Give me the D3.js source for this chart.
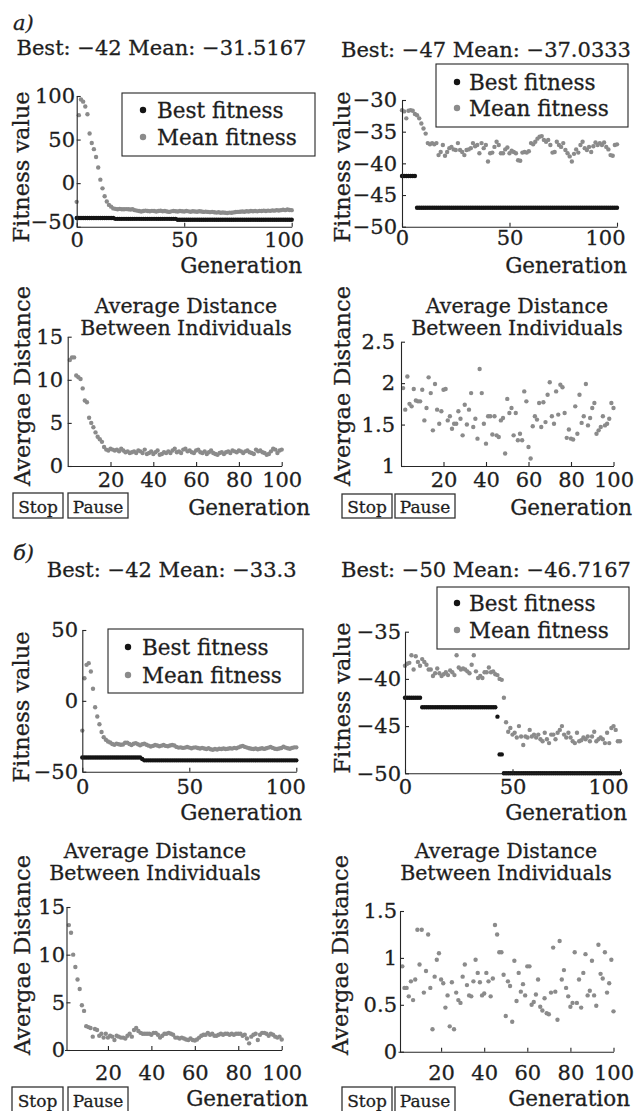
<!DOCTYPE html>
<html><head><meta charset="utf-8">
<script src="https://cdn.jsdelivr.net/npm/d3@7"></script>
<style>
body{margin:0;background:#fff}
svg text{font-family:"DejaVu Serif",serif;fill:#1e1e1e;stroke:#1e1e1e;stroke-width:0.3px}
</style>
</head><body>
<svg id="c" width="635" height="1111"></svg>
<script>
// ---------- DATA ----------
const fitTicksA1 = [-50, 0, 50, 100];
const fitTicksA2 = [-50, -45, -40, -35, -30];
const fitTicksB1 = [-50, 0, 50];
const fitTicksB2 = [-50, -45, -40, -35];
const genTicksFit = [0, 50, 100];
const genTicksDist = [20, 40, 60, 80, 100];
const distTicksA3 = [0, 5, 10, 15];
const distTicksA4 = [1, 1.5, 2, 2.5];
const distTicksB3 = [0, 5, 10, 15];
const distTicksB4 = [0, 0.5, 1, 1.5];

const legendLabels = ["Best fitness", "Mean fitness"];
const titlesFit = ["Best: \u221242 Mean: \u221231.5167", "Best: \u221247 Mean: \u221237.0333",
                   "Best: \u221242 Mean: \u221233.3", "Best: \u221250 Mean: \u221246.7167"];

// a) fitness, generations 0..100
const meanA1 = [-21.5,78,96,93.5,88,79,57,46,39,30,
18,4,-6,-15,-21,-25,-27,-29,-29.5,-30,
-29.5,-30,-30,-29.8,-30,-30.2,-30,-31,-31.5,-32,
-32.5,-32,-31.5,-32,-32.3,-31.8,-32,-32.5,-32,-31.7,
-32.2,-32,-32.5,-33,-32.4,-32,-32.2,-32.6,-32,-32.3,
-32.5,-32,-32.4,-32.8,-32.3,-32.5,-32.8,-32.3,-32.6,-33,
-32.7,-33,-33.3,-33,-33.5,-33.8,-33.4,-34,-33.7,-34,
-34.2,-33.8,-34,-33.6,-33.2,-33,-32.8,-32.5,-32.8,-32.3,
-32.5,-32,-32.3,-32,-32.4,-31.8,-32,-31.6,-32,-31.5,
-31.8,-31.3,-31.6,-31,-31.4,-31,-30.5,-31,-30.3,-30.8,
-31];
const bestA1 = [-40,-40,-40,-40,-40,-40,-40,-40,-40,-40,
-40,-40,-40,-40,-40,-40,-40,-40,-41,-41,
-41,-41,-41,-41,-41,-41,-41,-41,-41,-41,
-41,-41,-41,-41,-41,-41,-41,-41,-41,-41,
-41,-41,-41,-41,-41,-41,-41,-42,-42,-42,
-42,-42,-42,-42,-42,-42,-42,-42,-42,-42,
-42,-42,-42,-42,-42,-42,-42,-42,-42,-42,
-42,-42,-42,-42,-42,-42,-42,-42,-42,-42,
-42,-42,-42,-42,-42,-42,-42,-42,-42,-42,
-42,-42,-42,-42,-42,-42,-42,-42,-42,-42,
-42];
const meanA2 = [-31.6,-31.8,-32.9,-31.7,-31.6,-31.7,-32.2,-32.4,-32.9,-33.7,
-34.5,-35.3,-36.8,-37,-36.8,-37,-36.8,-38.7,-38.2,-37.1,
-38.8,-38.2,-37.6,-37.4,-37.8,-37.9,-36.8,-37.9,-38.2,-38.7,
-37.9,-37.8,-37.6,-36.8,-37.3,-37.1,-38.4,-36.8,-37.6,-37.1,
-39.7,-38.4,-38.3,-37.4,-36.6,-37.1,-38.4,-38.4,-37.8,-37.5,
-38.4,-38,-38.2,-38.4,-39.5,-39.6,-38.3,-38.2,-38.3,-38.1,
-36.8,-37,-36.6,-36.1,-35.8,-35.7,-36.3,-36.6,-36.3,-37.1,
-38.3,-38.2,-36.6,-37.1,-37.4,-36.8,-37.9,-38.4,-38.9,-39.7,
-38.5,-37.8,-38.3,-37.1,-36.6,-37.6,-37.9,-37.4,-38.2,-37.3,
-36.7,-37.1,-36.8,-37.1,-36.7,-37.4,-37.8,-38.7,-38.8,-37.1,
-37];
const bestA2 = [-42,-42,-42,-42,-42,-42,-42,-47,-47,-47,
-47,-47,-47,-47,-47,-47,-47,-47,-47,-47,
-47,-47,-47,-47,-47,-47,-47,-47,-47,-47,
-47,-47,-47,-47,-47,-47,-47,-47,-47,-47,
-47,-47,-47,-47,-47,-47,-47,-47,-47,-47,
-47,-47,-47,-47,-47,-47,-47,-47,-47,-47,
-47,-47,-47,-47,-47,-47,-47,-47,-47,-47,
-47,-47,-47,-47,-47,-47,-47,-47,-47,-47,
-47,-47,-47,-47,-47,-47,-47,-47,-47,-47,
-47,-47,-47,-47,-47,-47,-47,-47,-47,-47,
-47];
// a) distance, generations 1..100
const distA3 = [12.3,12.6,12.6,10.5,10.3,10.1,9.0,7.6,7.4,5.6,
5.0,4.5,3.9,3.4,3.1,2.8,2.2,1.9,1.8,2.0,
1.9,1.8,1.9,1.7,2.0,1.8,1.6,1.7,1.5,1.6,
1.7,1.5,1.8,1.7,1.5,1.9,1.4,1.5,1.7,1.4,
1.6,1.8,1.3,1.4,1.6,1.5,1.7,1.5,1.8,2.0,
1.6,1.7,1.5,1.9,2.0,1.7,1.8,1.6,1.5,1.8,
1.9,1.6,1.5,1.7,1.4,1.6,1.8,1.5,1.4,1.3,
1.5,1.6,1.4,1.6,1.7,1.5,1.8,1.7,1.6,1.8,
1.7,1.5,1.7,1.8,1.6,1.5,1.4,1.9,1.7,1.8,
1.6,1.5,1.3,1.4,1.7,2.0,1.9,1.5,1.8,1.9];
const distA4 = [1.94,1.68,2.08,1.75,1.72,1.93,1.79,1.78,1.78,1.92,
1.55,1.70,2.07,1.88,1.43,1.99,1.68,1.51,1.66,1.92,
1.93,1.55,1.60,1.45,1.51,1.51,1.66,1.57,1.37,1.74,
1.50,1.68,1.88,1.47,1.57,1.33,2.17,1.88,1.51,1.27,
1.60,1.60,1.38,1.60,1.37,1.35,1.55,1.58,1.15,1.81,
1.64,1.70,1.37,1.64,1.31,1.39,1.31,1.90,1.78,1.23,
1.09,1.48,1.60,1.56,1.76,1.47,1.77,1.53,1.86,2.01,
1.60,1.51,1.90,1.62,1.98,1.95,1.64,1.34,1.44,1.33,
1.32,1.72,1.39,1.86,1.52,1.60,1.99,1.49,1.58,1.70,
1.76,1.39,1.43,1.47,1.60,1.49,1.51,1.57,1.76,1.70];
// б) fitness, generations 0..100
const meanB1 = [-21,16,25.4,26.6,20.7,8.5,-4.5,-11,-16.5,-22,
-25.6,-27.5,-28.7,-29.4,-30.4,-31,-30.2,-30.6,-31,-30.8,
-29.6,-29.5,-30.5,-31.2,-30.3,-29.8,-30.6,-31.4,-30.6,-30.2,
-31,-31.6,-32.2,-31.8,-31.2,-31.5,-32,-31.6,-31.2,-31.8,
-32,-31.5,-31.2,-31.5,-32.5,-33,-32.8,-33.2,-33,-32.6,
-33,-33.4,-33,-32.8,-33.3,-33.6,-33.2,-33.6,-34,-33.5,
-34.2,-34.5,-34,-34.3,-33.8,-34,-33.6,-34,-33.8,-33.4,
-33.7,-33.2,-33.4,-32.8,-32.2,-31.8,-32.5,-33,-33.5,-33.8,
-34,-33.6,-34.2,-33.8,-33.4,-33.9,-33.5,-33,-32.6,-33.2,
-33.8,-34,-33.6,-33.3,-32.4,-33,-33.4,-33.8,-33.2,-32.8,
-32.8];
const bestB1 = [-40,-40,-40,-40,-40,-40,-40,-40,-40,-40,
-40,-40,-40,-40,-40,-40,-40,-40,-40,-40,
-40,-40,-40,-40,-40,-40,-40,-40,-41,-42,
-42,-42,-42,-42,-42,-42,-42,-42,-42,-42,
-42,-42,-42,-42,-42,-42,-42,-42,-42,-42,
-42,-42,-42,-42,-42,-42,-42,-42,-42,-42,
-42,-42,-42,-42,-42,-42,-42,-42,-42,-42,
-42,-42,-42,-42,-42,-42,-42,-42,-42,-42,
-42,-42,-42,-42,-42,-42,-42,-42,-42,-42,
-42,-42,-42,-42,-42,-42,-42,-42,-42,-42,
-42];
const meanB2 = [-38.6,-38.4,-38.3,-37.5,-39.0,-37.6,-38.2,-38.6,-37.9,-38.2,
-38.5,-39.0,-39.0,-39.7,-39.4,-38.9,-39.4,-39.7,-39.5,-39.3,
-39.6,-39.1,-39.3,-39.6,-37.5,-38.8,-39.0,-38.9,-39.0,-39.2,
-39.4,-38.5,-37.5,-39.2,-39.9,-39.7,-39.9,-39.3,-39.3,-38.8,
-39.3,-39.2,-39.5,-39.6,-40.0,-40.1,-42.0,-44.6,-45.6,-45.2,
-45.9,-45.7,-46.2,-45.0,-46.1,-47.0,-46.1,-46.2,-45.4,-46.1,
-45.9,-46.2,-45.9,-46.4,-46.6,-45.7,-46.4,-46.8,-45.9,-45.9,
-46.4,-45.7,-45.4,-45.0,-45.9,-46.2,-45.7,-46.2,-46.6,-46.8,
-45.7,-46.6,-46.5,-46.2,-46.4,-46.1,-46.6,-46.1,-45.6,-46.6,
-46.4,-46.2,-46.4,-46.8,-45.7,-46.8,-45.2,-45.0,-45.4,-46.6,
-46.6];
const bestB2 = [-42,-42,-42,-42,-42,-42,-42,-42,-43,-43,
-43,-43,-43,-43,-43,-43,-43,-43,-43,-43,
-43,-43,-43,-43,-43,-43,-43,-43,-43,-43,
-43,-43,-43,-43,-43,-43,-43,-43,-43,-43,
-43,-43,-43,-44,-48,-48,-50,-50,-50,-50,
-50,-50,-50,-50,-50,-50,-50,-50,-50,-50,
-50,-50,-50,-50,-50,-50,-50,-50,-50,-50,
-50,-50,-50,-50,-50,-50,-50,-50,-50,-50,
-50,-50,-50,-50,-50,-50,-50,-50,-50,-50,
-50,-50,-50,-50,-50,-50,-50,-50,-50,-50,
-50];
// б) distance, generations 2..100
const distB3 = [13.1,12.3,10.0,8.7,7.4,6.4,4.7,4.1,2.5,2.4,
2.3,1.4,2.2,2.1,1.5,1.7,1.3,1.7,1.3,1.5,
1.4,1.05,1.5,1.4,1.3,1.3,1.2,1.5,1.7,1.4,
2.1,2.3,2.0,1.8,1.7,1.7,1.7,1.7,1.6,1.8,
1.8,1.6,1.3,1.5,1.7,1.7,1.8,1.7,1.6,1.3,
1.3,1.2,1.3,1.2,1.1,1.05,1.2,1.05,1.0,1.1,
1.3,1.5,1.6,1.6,1.8,1.6,1.7,1.5,1.5,1.6,
1.7,1.6,1.7,1.7,1.6,1.7,1.6,1.7,1.7,1.7,
1.5,1.6,1.2,0.7,1.4,1.6,1.7,1.05,1.6,1.8,
1.8,1.7,1.5,1.7,1.6,1.4,1.3,1.4,1.1];
const distB4 = [0.91,0.68,0.68,0.59,0.75,0.55,0.77,1.30,0.93,1.30,
0.63,0.86,1.25,0.68,0.24,0.80,0.98,1.05,0.77,0.73,
0.47,0.60,0.27,0.74,0.24,0.63,0.55,0.52,0.80,0.93,
0.71,0.60,0.59,0.75,0.98,0.84,0.74,0.60,0.62,0.84,
0.75,0.59,0.78,1.35,1.25,1.06,1.06,0.82,0.38,0.75,
0.70,0.32,0.97,0.54,0.84,0.64,0.72,0.60,0.91,0.91,
0.50,0.53,0.61,0.77,0.48,0.44,0.57,0.41,0.40,0.63,
1.11,0.64,0.34,1.18,0.77,0.87,0.68,0.59,0.48,0.52,
1.06,0.52,0.77,0.47,0.84,1.04,0.60,0.65,0.97,0.60,
0.49,1.14,0.83,0.78,1.06,0.63,0.73,0.98,0.43];

// ---------- STYLE ----------
const GRAY = "#8b8b8b", BLACK = "#141414", AX = "#262626";
const svg = d3.select("#c");

function txt(x, y, s, size, anchor, opts) {
  const t = svg.append("text").attr("x", x).attr("y", y).text(s)
    .attr("font-size", size).attr("text-anchor", anchor || "middle")
    .attr("dominant-baseline", "central");
  if (opts && opts.rotate) t.attr("transform", `rotate(-90 ${x} ${y})`);
  if (opts && opts.italic) t.attr("font-style", "italic");
  return t;
}

function panel(c) {
  const x = d3.scaleLinear().domain(c.xd).range(c.xr);
  const y = d3.scaleLinear().domain(c.yd).range(c.yr);
  const g = svg.append("g");
  const left = c.left !== undefined ? c.left : c.xr[0];
  const bottom = c.yr[0];
  c.series.forEach(s => {
    g.append("g").selectAll("circle").data(s.values).join("circle")
      .attr("cx", (d, i) => x(s.start + i)).attr("cy", d => y(d))
      .attr("r", 2.2).attr("fill", s.color);
  });
  const ya = g.append("g").attr("transform", `translate(${left},0)`)
    .call(d3.axisLeft(y).tickValues(c.yt).tickSizeInner(-4).tickSizeOuter(0)
      .tickPadding(left - c.ytx).tickFormat(d3.format("~g")));
  const xa = g.append("g").attr("transform", `translate(0,${bottom})`)
    .call(d3.axisBottom(x).tickValues(c.xt).tickSizeInner(-4).tickSizeOuter(0)
      .tickPadding(0).tickFormat(d3.format("~g")));
  [ya, xa].forEach(a => {
    a.attr("font-size", null).attr("font-family", null);
    a.selectAll("path,line").attr("stroke", AX).attr("stroke-width", 1.1);
    a.selectAll("text").attr("font-size", 21).attr("fill", "#1e1e1e");
  });
  xa.selectAll("text").attr("y", c.xly - bottom).attr("dy", "0.35em");
  if (c.lastDx) {
    const xs = xa.selectAll("text").nodes();
    d3.select(xs[xs.length - 1]).attr("dx", c.lastDx);
  }
  if (c.minDy) {
    const ys = ya.selectAll("text").nodes();
    d3.select(ys[0]).attr("dy", c.minDy);
  }
  // axis labels
  txt(c.genx, c.geny, "Generation", 21.5, "end");
  txt(c.ylx, c.yly, c.ylabel, 22.5, "middle", {rotate: true});
  if (c.legend) {
    const L = c.legend;
    g.append("rect").attr("x", L.x0).attr("y", L.y0).attr("width", L.x1 - L.x0)
      .attr("height", L.y1 - L.y0).attr("fill", "#fff").attr("stroke", AX).attr("stroke-width", 1.1);
    [BLACK, GRAY].forEach((col, i) => {
      g.append("circle").attr("cx", L.dot).attr("cy", L.rows[i]).attr("r", 3.2).attr("fill", col);
      txt(L.tx, L.rows[i], legendLabels[i], 21.5, "start");
    });
  }
  if (c.title) c.title.forEach(t => txt(t[0], t[1], t[2], t[3] || 20.5));
  if (c.buttons) {
    const B = c.buttons;
    [["Stop", B.s0, B.s1], ["Pause", B.p0, B.p1]].forEach(b => {
      svg.append("rect").attr("x", b[1]).attr("y", B.y0).attr("width", b[2] - b[1])
        .attr("height", B.y1 - B.y0).attr("fill", "#fff").attr("stroke", "#333").attr("stroke-width", 1.3);
      txt((b[1] + b[2]) / 2, (B.y0 + B.y1) / 2 + 1, b[0], 17);
    });
  }
}

// panel tags
txt(13, 23, "а)", 21, "start", {italic: true});
txt(13, 553, "б)", 21, "start", {italic: true});

// а) fitness left
panel({xd:[0,100], xr:[76.7,291.7], yd:[-50,100], yr:[226.7,96], yt:fitTicksA1, ytx:75, xt:genTicksFit, xly:240,
  lastDx:-8, minDy:"0.1em",
  genx:302, geny:265, ylx:21, yly:167, ylabel:"Fitness value",
  series:[{values:bestA1,start:0,color:BLACK},{values:meanA1,start:0,color:GRAY}],
  legend:{x0:122,x1:315,y0:93,y1:156,rows:[110,137],dot:143,tx:157},
  title:[[161.5,48,titlesFit[0],21]]});
// а) fitness right
panel({xd:[0,100], xr:[402,617], yd:[-50,-30], yr:[226.7,100], yt:fitTicksA2, ytx:397, xt:genTicksFit, xly:238,
  lastDx:-12,
  genx:627, geny:265, ylx:342, yly:167, ylabel:"Fitness value",
  series:[{values:bestA2,start:0,color:BLACK},{values:meanA2,start:0,color:GRAY}],
  legend:{x0:436,x1:628,y0:64,y1:127,rows:[82,108],dot:457,tx:469},
  title:[[486,50,titlesFit[1],21]]});
// а) distance left
panel({xd:[0,100], xr:[67.7,281.7], yd:[0,15], yr:[466,336.7], yt:distTicksA3, ytx:63, xt:genTicksDist, xly:480,
  genx:310, geny:507, ylx:22, yly:386, ylabel:"Avergae Distance",
  series:[{values:distA3,start:1,color:GRAY}],
  title:[[186,306,"Average Distance"],[186,328,"Between Individuals"]],
  buttons:{s0:13,s1:63,p0:68,p1:128,y0:493,y1:518}});
// а) distance right
panel({xd:[0,100], xr:[401,613.5], yd:[1,2.5], yr:[466,341.7], yt:distTicksA4, ytx:395, xt:genTicksDist, xly:480,
  genx:632, geny:507, ylx:342, yly:386, ylabel:"Avergae Distance",
  series:[{values:distA4,start:1,color:GRAY}],
  title:[[517,306,"Average Distance"],[517,328,"Between Individuals"]],
  buttons:{s0:342,s1:392,p0:395,p1:455,y0:494,y1:518}});
// б) fitness left
panel({xd:[0,100], xr:[82.3,296.3], yd:[-50,50], yr:[771.7,630], yt:fitTicksB1, ytx:78, xt:genTicksFit, xly:787,
  lastDx:-11,
  genx:302, geny:812, ylx:21, yly:707, ylabel:"Fitness value",
  series:[{values:bestB1,start:0,color:BLACK},{values:meanB1,start:0,color:GRAY}],
  legend:{x0:108,x1:303,y0:629,y1:693,rows:[647,675],dot:128,tx:142},
  title:[[171.7,570,titlesFit[2],21]]});
// б) fitness right
panel({xd:[0,100], xr:[405,620], yd:[-50,-35], yr:[773.3,631.7], yt:fitTicksB2, ytx:401, xt:genTicksFit, xly:787,
  lastDx:-12,
  genx:627, geny:812, ylx:342, yly:698, ylabel:"Fitness value",
  series:[{values:bestB2,start:0,color:BLACK},{values:meanB2,start:0,color:GRAY}],
  legend:{x0:437,x1:629,y0:587,y1:649,rows:[603,630],dot:457,tx:469},
  title:[[486,570,titlesFit[3],21]]});
// б) distance left
panel({xd:[0,100], xr:[64.5,281.7], left:66.5, yd:[0,15], yr:[1050,907], yt:distTicksB3, ytx:65, xt:genTicksDist, xly:1073,
  genx:308, geny:1098, ylx:22, yly:955, ylabel:"Avergae Distance",
  series:[{values:distB3,start:2,color:GRAY}],
  title:[[155,851,"Average Distance"],[155,873,"Between Individuals"]],
  buttons:{s0:12,s1:63,p0:68,p1:128,y0:1087,y1:1112}});
// б) distance right
panel({xd:[0,100], xr:[398,613.5], left:400, yd:[0,1.5], yr:[1051.7,911], yt:distTicksB4, ytx:397, xt:genTicksDist, xly:1073,
  genx:630, geny:1098, ylx:340, yly:955, ylabel:"Avergae Distance",
  series:[{values:distB4,start:2,color:GRAY}],
  title:[[506,851,"Average Distance"],[506,873,"Between Individuals"]],
  buttons:{s0:342,s1:392,p0:395,p1:455,y0:1087,y1:1112}});
</script>
</body></html>
